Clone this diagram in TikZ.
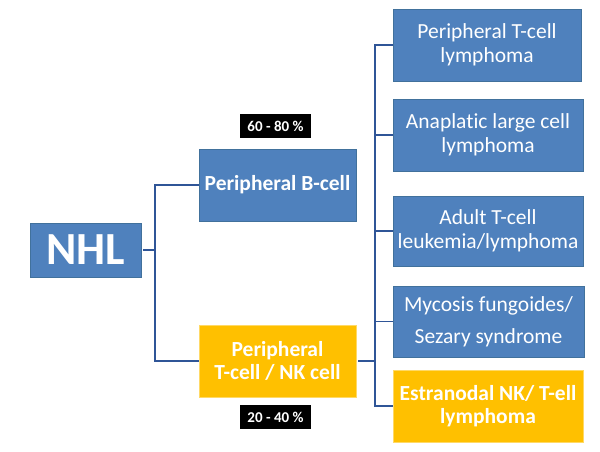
\documentclass[tikz,border=0pt]{standalone}
\usepackage{fontspec}
\setmainfont{Carlito}[Ligatures=NoCommon]
\definecolor{boxblue}{HTML}{4F81BD}
\definecolor{boxedge}{HTML}{41719C}
\definecolor{boxyellow}{HTML}{FFC000}
\definecolor{yedge}{HTML}{FFD966}
\definecolor{linkblue}{HTML}{2F5597}
\begin{document}
\begin{tikzpicture}[x=1pt,y=-1pt,
  box/.style={draw=boxedge,line width=0.8pt,fill=boxblue,text=white,inner sep=0pt,align=center,font=\fontsize{21.5}{24}\selectfont},
  ybox/.style={box,draw=yedge,fill=boxyellow,font=\fontsize{21.5}{23.5}\selectfont\bfseries},
  pct/.style={fill=black,text=white,inner sep=0pt,minimum width=71pt,minimum height=24pt,font=\fontsize{15}{16}\selectfont\bfseries},
  link/.style={draw=linkblue,line width=1.5pt}]
\useasboundingbox (0,0) rectangle (600,451);
\node[box,minimum width=111pt,minimum height=54pt,font=\fontsize{46}{50}\selectfont\bfseries] (nhl) at (85.5,250) {NHL};
\node[box,minimum width=157pt,minimum height=72pt,font=\fontsize{21.5}{24}\selectfont\bfseries] (pb) at (277.5,185) {Peripheral B-cell};
\node[ybox,minimum width=157pt,minimum height=72pt] (pt) at (277.5,361) {Peripheral\\T-cell / NK cell};
\node[pct] (p1) at (275.5,126) {60 - 80 \%};
\node[pct] (p2) at (275.5,417) {20 - 40 \%};
\node[box,minimum width=188pt,minimum height=72pt] (r1) at (487,45) {Peripheral T-cell\\lymphoma};
\node[box,minimum width=190pt,minimum height=72pt] (r2) at (488,135) {Anaplatic large cell\\lymphoma};
\node[box,minimum width=190pt,minimum height=70pt] (r3) at (488,231) {Adult T-cell\\leukemia/lymphoma};
\node[box,minimum width=191pt,minimum height=71pt,font=\fontsize{21.5}{32}\selectfont] (r4) at (488.5,321.5) {Mycosis fungoides/\\Sezary syndrome};
\node[ybox,minimum width=190pt,minimum height=72pt] (r5) at (488,406) {Estranodal NK/ T-ell\\lymphoma};
\coordinate (j1) at (155,250);
\coordinate (j2) at (375,361);
\draw[link] ([xshift=2pt]nhl.east) -- (j1);
\draw[link] (pb.west) -| (j1) |- (pt.west);
\draw[link] ([xshift=2pt]pt.east) -- (j2);
\draw[link] (r1.west) -| (j2) |- (r5.west);
\draw[link] (r2.west) -- (r2.west -| j2);
\draw[link] (r3.west) -- (r3.west -| j2);
\draw[link] (r4.west) -- (r4.west -| j2);
\end{tikzpicture}
\end{document}
